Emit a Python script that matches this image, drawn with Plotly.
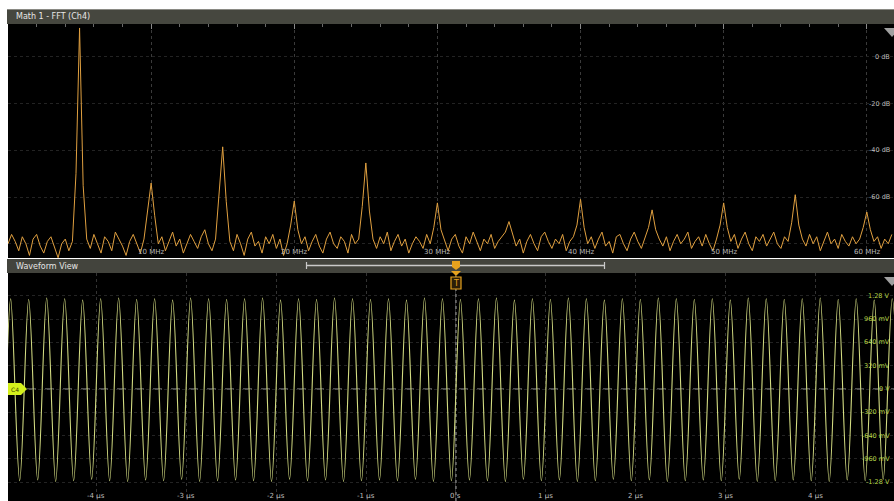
import numpy as np
import plotly.graph_objects as go

W, H = 894, 501

# ---- Math 1: FFT of Ch4, 0.25 MHz bins starting at 0 MHz ----
fft_bin_mhz = 0.25
fft_db = [
    -80, -76, -79, -83, -77, -80, -85, -78, -76, -81, -84, -79, -77, -82, -86, -80, -78, -83, -79, -50,
    12.4, -55, -78, -82, -76, -80, -84, -77, -79, -83, -75, -78, -81, -85, -79, -76, -80, -84, -78, -66,
    -54, -68, -80, -77, -83, -79, -75, -81, -78, -84, -80, -76, -79, -82, -77, -74, -80, -83, -78, -60,
    -38.5, -62, -79, -83, -76, -80, -85, -78, -75, -81, -79, -84, -77, -80, -76, -82, -78, -85, -80, -72,
    -61.7, -74, -80, -77, -83, -79, -76, -81, -84, -78, -75, -80, -82, -77, -79, -84, -76, -80, -78, -64,
    -45.4, -66, -78, -82, -77, -80, -75, -83, -79, -76, -81, -78, -84, -80, -77, -79, -82, -76, -80, -73,
    -62.5, -74, -79, -83, -78, -76, -81, -84, -77, -80, -75, -79, -83, -78, -80, -76, -82, -79, -77, -75,
    -70.5, -76, -81, -78, -84, -79, -76, -80, -83, -77, -75, -79, -82, -78, -80, -76, -83, -79, -77, -72,
    -61, -73, -80, -77, -82, -78, -75, -81, -79, -84, -77, -76, -80, -83, -78, -75, -79, -82, -77, -73,
    -65.5, -74, -78, -81, -77, -83, -79, -76, -80, -78, -75, -82, -79, -77, -81, -76, -80, -83, -78, -72,
    -62.5, -73, -79, -76, -82, -78, -75, -80, -83, -77, -79, -76, -81, -78, -75, -80, -82, -77, -79, -71,
    -59, -72, -78, -81, -76, -80, -77, -83, -79, -75, -80, -78, -82, -76, -79, -81, -77, -80, -78, -73,
    -66.4, -74, -79, -77, -82, -78, -80, -76,
]
freq_ticks = [10, 20, 30, 40, 50, 60]
freq_labels = ["10 MHz", "20 MHz", "30 MHz", "40 MHz", "50 MHz", "60 MHz"]
db_ticks = [0, -20, -40, -60]
db_labels = ["0 dB", "-20 dB", "-40 dB", "-60 dB"]

# ---- Waveform view: Ch4 extrema (µs, V) ----
start_t, start_v = -5.0, 0.0
peak_t = [-4.95, -4.75, -4.55, -4.35, -4.15, -3.95, -3.75, -3.55, -3.35, -3.15,
          -2.95, -2.75, -2.55, -2.35, -2.15, -1.95, -1.75, -1.55, -1.35, -1.15,
          -0.95, -0.75, -0.55, -0.35, -0.15, 0.05, 0.25, 0.45, 0.65, 0.85,
          1.05, 1.25, 1.45, 1.65, 1.85, 2.05, 2.25, 2.45, 2.65, 2.85,
          3.05, 3.25, 3.45, 3.65, 3.85, 4.05, 4.25, 4.45, 4.65, 4.85]
peak_v = [1.24, 1.23, 1.25, 1.24, 1.22, 1.24, 1.25, 1.23, 1.24, 1.22,
          1.25, 1.24, 1.23, 1.24, 1.25, 1.22, 1.24, 1.23, 1.25, 1.24,
          1.23, 1.24, 1.22, 1.25, 1.24, 1.23, 1.24, 1.25, 1.22, 1.24,
          1.23, 1.25, 1.24, 1.22, 1.24, 1.23, 1.25, 1.24, 1.23, 1.24,
          1.22, 1.25, 1.24, 1.23, 1.24, 1.25, 1.23, 1.24, 1.22, 1.24]
trough_t = [-4.85, -4.65, -4.45, -4.25, -4.05, -3.85, -3.65, -3.45, -3.25, -3.05,
            -2.85, -2.65, -2.45, -2.25, -2.05, -1.85, -1.65, -1.45, -1.25, -1.05,
            -0.85, -0.65, -0.45, -0.25, -0.05, 0.15, 0.35, 0.55, 0.75, 0.95,
            1.15, 1.35, 1.55, 1.75, 1.95, 2.15, 2.35, 2.55, 2.75, 2.95,
            3.15, 3.35, 3.55, 3.75, 3.95, 4.15, 4.35, 4.55, 4.75, 4.95]
trough_v = [-1.26, -1.25, -1.27, -1.26, -1.24, -1.26, -1.27, -1.25, -1.26, -1.24,
            -1.27, -1.26, -1.25, -1.26, -1.27, -1.24, -1.26, -1.25, -1.27, -1.26,
            -1.25, -1.26, -1.24, -1.27, -1.26, -1.25, -1.26, -1.27, -1.24, -1.26,
            -1.25, -1.27, -1.26, -1.24, -1.26, -1.25, -1.27, -1.26, -1.25, -1.26,
            -1.24, -1.27, -1.26, -1.25, -1.26, -1.27, -1.25, -1.26, -1.24, -1.26]
time_ticks = [-4, -3, -2, -1, 0, 1, 2, 3, 4]
time_labels = ["-4 µs", "-3 µs", "-2 µs", "-1 µs", "0 s", "1 µs", "2 µs", "3 µs", "4 µs"]
volt_ticks = [1.28, 0.96, 0.64, 0.32, 0, -0.32, -0.64, -0.96, -1.28]
volt_labels = ["1.28 V", "960 mV", "640 mV", "320 mV", "0 V", "-320 mV", "-640 mV", "-960 mV", "-1.28 V"]

FONT = "DejaVu Sans"
MATH = "#e0a040"
CH4 = "#d3dc82"
CH4_LBL = "#b9d84a"


def px(x):
    return x / W


def py(y):
    return 1 - y / H


freqs = np.arange(len(fft_db)) * fft_bin_mhz
wave = sorted([(start_t, start_v)] + list(zip(peak_t, peak_v)) + list(zip(trough_t, trough_v)))
wave_t = [p[0] for p in wave]
wave_v = [p[1] for p in wave]

fig = go.Figure()
fig.add_trace(go.Scatter(x=freqs, y=fft_db, mode="lines", xaxis="x", yaxis="y",
                         line=dict(color=MATH, width=1), hoverinfo="skip"))
fig.add_trace(go.Scatter(x=wave_t, y=wave_v, mode="lines", xaxis="x2", yaxis="y2",
                         line=dict(color=CH4, width=1.1, shape="spline", smoothing=1.0),
                         hoverinfo="skip"))

axis_common = dict(showline=False, zeroline=False, showticklabels=False, fixedrange=True)
fig.update_layout(
    width=W, height=H,
    margin=dict(l=0, r=0, t=0, b=0),
    paper_bgcolor="white",
    plot_bgcolor="black",
    showlegend=False,
    xaxis=dict(domain=[px(8), 1], range=[0, 61.9], anchor="y", side="top",
               tickvals=freq_ticks, showgrid=True, gridcolor="#3a3a3a", griddash="dot",
               ticks="inside", ticklen=5, tickcolor="#8a8a8a",
               minor=dict(dtick=2, ticks="inside", ticklen=3, tickcolor="#6a6a6a", showgrid=False),
               **axis_common),
    yaxis=dict(domain=[py(258), py(24)], range=[-86.1, 14.1], anchor="x",
               tickvals=[0, -20, -40, -60, -80], showgrid=True, gridcolor="#232323",
               griddash="dot", **axis_common),
    xaxis2=dict(domain=[px(8), 1], range=[-4.98, 4.87], anchor="y2",
                tickvals=time_ticks, showgrid=True, gridcolor="#333333", griddash="dot",
                **axis_common),
    yaxis2=dict(domain=[0, py(273)], range=[-1.538, 1.593], anchor="x2",
                tickvals=volt_ticks, showgrid=True, gridcolor="#232323", griddash="dot",
                **axis_common),
)

shapes = [
    # title bars
    dict(type="rect", xref="paper", yref="paper", x0=px(7), x1=1, y0=py(24), y1=py(9),
         fillcolor="#46473f", line=dict(width=0), layer="above"),
    dict(type="line", xref="paper", yref="paper", x0=px(7), x1=1, y0=py(9.5), y1=py(9.5),
         line=dict(color="#8a8a84", width=1), layer="above"),
    dict(type="rect", xref="paper", yref="paper", x0=px(7), x1=1, y0=py(273), y1=py(259),
         fillcolor="#43443d", line=dict(width=0), layer="above"),
    # scroll bar
    dict(type="line", xref="paper", yref="paper", x0=px(306), x1=px(605), y0=py(265.5), y1=py(265.5),
         line=dict(color="#c9c9c9", width=1.5), layer="above"),
    dict(type="line", xref="paper", yref="paper", x0=px(306.5), x1=px(306.5), y0=py(262), y1=py(269),
         line=dict(color="#c9c9c9", width=1.2), layer="above"),
    dict(type="line", xref="paper", yref="paper", x0=px(604.5), x1=px(604.5), y0=py(262), y1=py(269),
         line=dict(color="#c9c9c9", width=1.2), layer="above"),
    # trigger marker
    dict(type="path", xref="paper", yref="paper", layer="above",
         path=f"M {px(452)},{py(261)} L {px(460)},{py(261)} L {px(460)},{py(267)} L {px(456)},{py(270)} "
              f"L {px(452)},{py(267)} Z", fillcolor="#e6a21e", line=dict(width=0)),
    dict(type="path", xref="paper", yref="paper", layer="above",
         path=f"M {px(451)},{py(271)} L {px(461)},{py(271)} L {px(456)},{py(276)} Z",
         fillcolor="#e6a21e", line=dict(width=0)),
    dict(type="rect", xref="paper", yref="paper", x0=px(451), x1=px(461), y0=py(289), y1=py(277),
         fillcolor="#2a1e08", line=dict(color="#e6a21e", width=1.2), layer="above"),
    # top-right markers
    dict(type="path", xref="paper", yref="paper", layer="above",
         path=f"M {px(884)},{py(28)} L {px(900)},{py(28)} L {px(892)},{py(37)} Z",
         fillcolor="#a0a0a0", line=dict(width=0)),
    dict(type="path", xref="paper", yref="paper", layer="above",
         path=f"M {px(884)},{py(277)} L {px(900)},{py(277)} L {px(892)},{py(286)} Z",
         fillcolor="#a0a0a0", line=dict(width=0)),
    # trigger time / ground reference lines
    dict(type="line", xref="x2", yref="paper", x0=0, x1=0, y0=0, y1=py(273),
         line=dict(color="#b8b8b8", width=1, dash="dot"), layer="below"),
    dict(type="line", xref="paper", yref="y2", x0=px(27), x1=1, y0=0, y1=0,
         line=dict(color="#9a9a9a", width=1, dash="dash"), layer="below"),
    # C4 badge
    dict(type="path", xref="paper", yref="paper", layer="above",
         path=f"M {px(8)},{py(383)} L {px(21)},{py(383)} L {px(27)},{py(389)} L {px(21)},{py(395)} "
              f"L {px(8)},{py(395)} Z", fillcolor="#d4f01c", line=dict(width=0)),
]
fig.update_layout(shapes=shapes)

annotations = [
    dict(text="Math 1 - FFT (Ch4)", x=px(14), y=py(16.5), xanchor="left", yanchor="middle",
         font=dict(size=8, color="#e6e6e6", family=FONT)),
    dict(text="Waveform View", x=px(14), y=py(266.5), xanchor="left", yanchor="middle",
         font=dict(size=8, color="#e6e6e6", family=FONT)),
    dict(text="T", x=px(456), y=py(283), xanchor="center", yanchor="middle",
         font=dict(size=8, color="#e6a21e", family=FONT)),
    dict(text="C4", x=px(15), y=py(389), xanchor="center", yanchor="middle",
         font=dict(size=6, color="#3a3a00", family=FONT)),
]
for f, lbl in zip(freq_ticks, freq_labels):
    annotations.append(dict(text=lbl, xref="x", x=f, y=py(252), xanchor="center", yanchor="middle",
                            font=dict(size=7, color="#b8b8b8", family=FONT)))
for d, lbl in zip(db_ticks, db_labels):
    annotations.append(dict(text=lbl, yref="y", y=d, x=px(892), xanchor="right", yanchor="middle",
                            font=dict(size=6.5, color="#bdbdbd", family=FONT)))
for t, lbl in zip(time_ticks, time_labels):
    annotations.append(dict(text=lbl, xref="x2", x=t, y=py(490), xanchor="center", yanchor="top",
                            font=dict(size=7, color="#bdbdbd", family=FONT)))
for v, lbl in zip(volt_ticks, volt_labels):
    annotations.append(dict(text=lbl, yref="y2", y=v, x=px(892), xanchor="right", yanchor="middle",
                            font=dict(size=6.5, color=CH4_LBL, family=FONT)))
for a in annotations:
    a.setdefault("xref", "paper")
    a.setdefault("yref", "paper")
    a["showarrow"] = False
fig.update_layout(annotations=annotations)

fig.write_html("out.html", config={"displayModeBar": False},
               post_script="document.body.style.margin='0';document.body.style.overflow='hidden';")
